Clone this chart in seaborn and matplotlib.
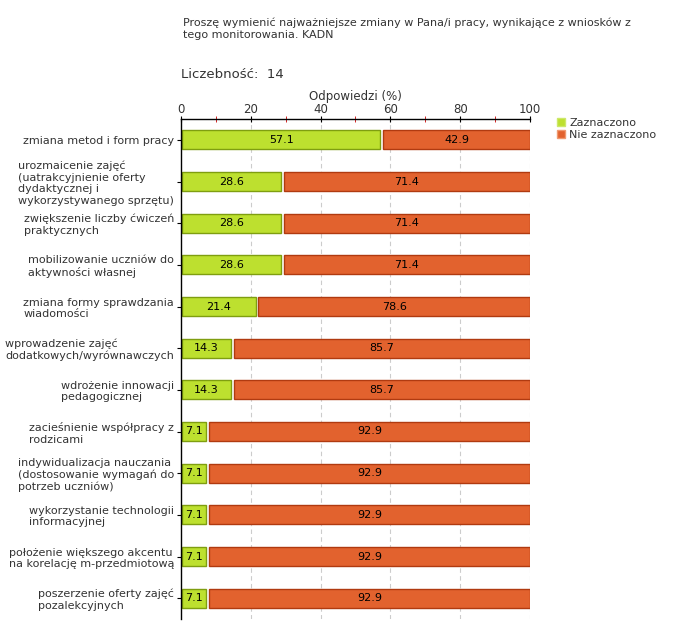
import matplotlib
matplotlib.use("Agg")
import matplotlib.pyplot as plt
import seaborn as sns
import numpy as np
import pandas as pd
from matplotlib.patches import Patch

categories = [
    "zmiana metod i form pracy",
    "urozmaicenie zajęć\n(uatrakcyjnienie oferty\ndydaktycznej i\nwykorzystywanego sprzętu)",
    "zwiększenie liczby ćwiczeń\npraktycznych",
    "mobilizowanie uczniów do\naktywności własnej",
    "zmiana formy sprawdzania\nwiadomości",
    "wprowadzenie zajęć\ndodatkowych/wyrównawczych",
    "wdrożenie innowacji\npedagogicznej",
    "zacieśnienie współpracy z\nrodzicami",
    "indywidualizacja nauczania\n(dostosowanie wymagań do\npotrzeb uczniów)",
    "wykorzystanie technologii\ninformacyjnej",
    "położenie większego akcentu\nna korelację m-przedmiotową",
    "poszerzenie oferty zajęć\npozalekcyjnych",
]
zaznaczono = [57.1, 28.6, 28.6, 28.6, 21.4, 14.3, 14.3, 7.1, 7.1, 7.1, 7.1, 7.1]
nie_zaznaczono = [42.9, 71.4, 71.4, 71.4, 78.6, 85.7, 85.7, 92.9, 92.9, 92.9, 92.9, 92.9]
series_names = ["Zaznaczono", "Nie zaznaczono"]
title = "Proszę wymienić najważniejsze zmiany w Pana/i pracy, wynikające z wniosków z\ntego monitorowania. KADN"
count_text = "Liczebność:  14"
xlabel = "Odpowiedzi (%)"

GREEN = "#bde02f"
GREEN_EDGE = "#7f9e10"
ORANGE = "#e2622e"
ORANGE_EDGE = "#b03a10"
TXT = "#333333"

sns.set_style("white")
plt.rcParams['font.family'] = ['DejaVu Sans']

fig = plt.figure(figsize=(6.8, 6.4), dpi=100)
ax = fig.add_axes([181/680, 1-619/640, 349/680, 500/640])

df = pd.DataFrame({"cat": categories, "z": zaznaczono, "n": nie_zaznaczono})
h = 0.45
sns.barplot(data=df, x="z", y="cat", color=GREEN, edgecolor=GREEN_EDGE,
            linewidth=1.0, width=h, ax=ax, saturation=1, orient="h")
y = np.arange(len(categories))
gap = 0.8
ax.barh(y, np.array(nie_zaznaczono) - gap, left=np.array(zaznaczono) + gap,
        height=h, color=ORANGE, edgecolor=ORANGE_EDGE, linewidth=1.0)
for p in ax.patches[:len(categories)]:
    p.set_x(0.4)
    p.set_width(p.get_width() - 0.4)

for i, (zv, nv) in enumerate(zip(zaznaczono, nie_zaznaczono)):
    ax.text(zv / 2 + 0.2, i, f"{zv}", ha="center", va="center", fontsize=8, color="black")
    ax.text(zv + gap + (nv - gap) / 2, i, f"{nv}", ha="center", va="center", fontsize=8, color="black")

ax.set_xlim(0, 100)
ax.set_ylim(len(categories) - 0.5, -0.5)
ax.xaxis.tick_top()
ax.xaxis.set_label_position("top")
ax.set_xticks([0, 20, 40, 60, 80, 100])
ax.set_xticks([10, 30, 50, 70, 90], minor=True)
ax.tick_params(axis="x", which="major", length=5, color="black", labelsize=8.5,
               labelcolor=TXT, pad=0, direction="inout")
ax.tick_params(axis="x", which="minor", length=4, color="#cc0000", direction="inout")
ax.set_xlabel(xlabel, fontsize=8.5, color=TXT, labelpad=2)
ax.set_ylabel("")
ax.set_yticks(y)
ax.set_yticklabels(categories, fontsize=8, color=TXT, multialignment="left")
ax.tick_params(axis="y", length=3, color="black", pad=2, left=True)
for s in ["right", "bottom"]:
    ax.spines[s].set_visible(False)
for s in ["left", "top"]:
    ax.spines[s].set_color("black")
    ax.spines[s].set_linewidth(1.0)
ax.grid(False)
for xv in [20, 40, 60, 80, 100]:
    ax.axvline(xv, color="#cccccc", linestyle=(0, (4, 3)), linewidth=0.8, zorder=0)
ax.set_axisbelow(True)

handles = [Patch(facecolor=GREEN, edgecolor="#cde86a"), Patch(facecolor=ORANGE, edgecolor="#f09a70")]
fig.legend(handles, series_names, loc="upper left", bbox_to_anchor=(557/680, 1-118/640),
           frameon=False, fontsize=8, handlelength=0.7, handleheight=0.7,
           handletextpad=0.4, labelspacing=0.2, borderaxespad=0, borderpad=0,
           labelcolor=TXT)

fig.text(183/680, 1-17/640, title, fontsize=8, color=TXT, va="top", ha="left", linespacing=1.35)
fig.text(181/680, 1-75/640, count_text, fontsize=9.5, color=TXT, va="center", ha="left")

fig.savefig("out.png", dpi=100)
